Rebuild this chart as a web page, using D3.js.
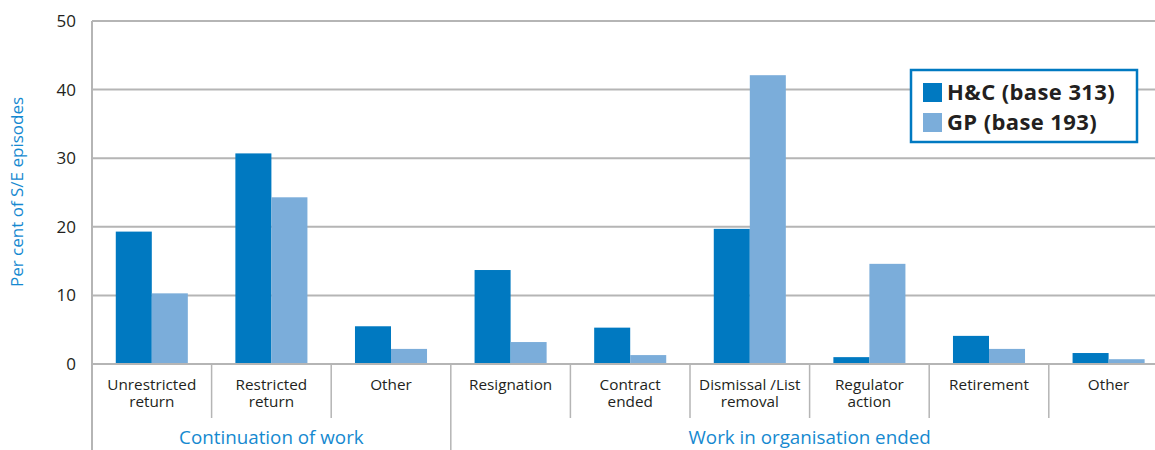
<!DOCTYPE html>
<html>
<head>
<meta charset="utf-8">
<script src="https://cdn.jsdelivr.net/npm/d3@7"></script>
<style>
  html, body { margin: 0; padding: 0; background: #fff; overflow: hidden; }
  svg { display: block; font-family: "Open Sans", "Noto Sans", sans-serif; }
</style>
</head>
<body>
<svg id="chart" width="1155" height="450"></svg>
<script>
// Outcome categories (two-line labels split on "\n")
const categories = [
  "Unrestricted\nreturn", "Restricted\nreturn", "Other",
  "Resignation", "Contract\nended", "Dismissal /List\nremoval",
  "Regulator\naction", "Retirement", "Other"
];
const groups = ["Continuation of work", "Work in organisation ended"];
const groupSizes = [3, 6];
const seriesNames = ["H&C (base 313)", "GP (base 193)"];
const hcValues = [19.3, 30.7, 5.5, 13.7, 5.3, 19.7, 1.0, 4.1, 1.6];
const gpValues = [10.3, 24.3, 2.2, 3.2, 1.3, 42.1, 14.6, 2.2, 0.7];
const yTicks = [0, 10, 20, 30, 40, 50];

const colors = ["#0079c1", "#7badda"];
const gridColor = "#b5b5b5";
const textColor = "#231f20";
const accent = "#1589d0";

const svg = d3.select("#chart");
const plotLeft = 92, plotTop = 21, plotBottom = 364;
const bandW = 119.6;
const plotRight = plotLeft + bandW * categories.length;

const keys = categories.map((c, i) => i);
const x = d3.scaleBand().domain(keys).range([plotLeft, plotRight]).padding(0);
const x1 = d3.scaleBand().domain([0, 1]).range([0, x.bandwidth()]).paddingInner(0).paddingOuter(0.66);
const y = d3.scaleLinear().domain([0, 50]).range([plotBottom, plotTop]);

// Horizontal gridlines
svg.append("g")
  .selectAll("line")
  .data(yTicks)
  .join("line")
  .attr("x1", plotLeft).attr("x2", plotRight)
  .attr("y1", d => y(d)).attr("y2", d => y(d))
  .attr("stroke", gridColor).attr("stroke-width", 2);

// Y axis tick labels
const yAxis = d3.axisLeft(y).tickValues(yTicks).tickSize(0).tickPadding(0);
const yg = svg.append("g").attr("transform", `translate(${plotLeft - 16},0)`).call(yAxis);
yg.select(".domain").remove();
yg.selectAll("text")
  .attr("font-size", 17)
  .attr("fill", textColor)
  .attr("font-family", "'Open Sans', sans-serif");

// Left axis line, running down past the category labels
svg.append("line")
  .attr("x1", plotLeft).attr("x2", plotLeft)
  .attr("y1", plotTop).attr("y2", 450)
  .attr("stroke", gridColor).attr("stroke-width", 2);

// Bars
const series = [hcValues, gpValues];
series.forEach((vals, s) => {
  svg.append("g")
    .selectAll("rect")
    .data(vals)
    .join("rect")
    .attr("x", (d, i) => x(i) + x1(s))
    .attr("width", x1.bandwidth())
    .attr("y", d => y(d))
    .attr("height", d => y(0) - y(d))
    .attr("fill", colors[s]);
});

// Category separators below the baseline
const groupStarts = [];
let acc = 0;
groupSizes.forEach(n => { groupStarts.push(acc); acc += n; });

svg.append("g")
  .selectAll("line")
  .data(d3.range(1, categories.length))
  .join("line")
  .attr("x1", i => x(i)).attr("x2", i => x(i))
  .attr("y1", plotBottom)
  .attr("y2", i => groupStarts.includes(i) ? 450 : 418)
  .attr("stroke", gridColor).attr("stroke-width", 1.5);

// Baseline redrawn on top of bars
svg.append("line")
  .attr("x1", plotLeft).attr("x2", plotRight)
  .attr("y1", y(0)).attr("y2", y(0))
  .attr("stroke", gridColor).attr("stroke-width", 2);

// Category labels
const catG = svg.append("g");
categories.forEach((c, i) => {
  const t = catG.append("text")
    .attr("x", x(i) + x.bandwidth() / 2)
    .attr("y", 390)
    .attr("text-anchor", "middle")
    .attr("font-size", 15.3)
    .attr("fill", textColor);
  c.split("\n").forEach((line, k) => {
    t.append("tspan")
      .attr("x", x(i) + x.bandwidth() / 2)
      .attr("dy", k === 0 ? 0 : 17)
      .text(line);
  });
});

// Group labels
groups.forEach((g, gi) => {
  const start = groupStarts[gi];
  const end = start + groupSizes[gi];
  svg.append("text")
    .attr("x", (x(start) + x(end - 1) + x.bandwidth()) / 2)
    .attr("y", 444)
    .attr("text-anchor", "middle")
    .attr("font-size", 18.8)
    .attr("fill", accent)
    .text(g);
});

// Y axis title
svg.append("text")
  .attr("transform", `translate(23,192) rotate(-90)`)
  .attr("text-anchor", "middle")
  .attr("font-size", 17)
  .attr("fill", accent)
  .text("Per cent of S/E episodes");

// Legend
const lg = svg.append("g").attr("transform", "translate(911,70)");
lg.append("rect")
  .attr("width", 226).attr("height", 72)
  .attr("fill", "#fff")
  .attr("stroke", "#0079c1").attr("stroke-width", 2.5);
seriesNames.forEach((n, i) => {
  lg.append("rect")
    .attr("x", 12).attr("y", 13 + i * 30)
    .attr("width", 19).attr("height", 19)
    .attr("fill", colors[i]);
  lg.append("text")
    .attr("x", 36).attr("y", 30 + i * 30)
    .attr("font-size", 22)
    .attr("letter-spacing", 0.4)
    .attr("font-weight", "bold")
    .attr("fill", textColor)
    .text(n);
});
</script>
</body>
</html>
